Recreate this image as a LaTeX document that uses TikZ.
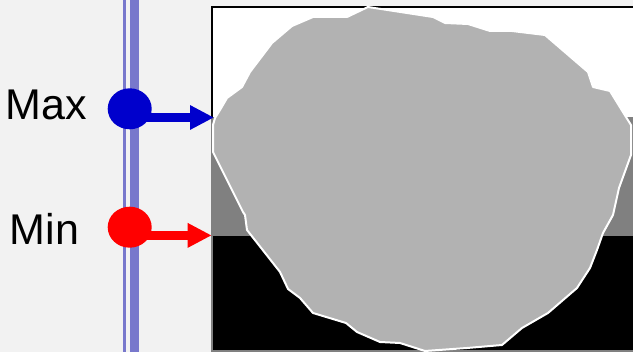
\documentclass[tikz,border=0pt]{standalone}
\usepackage{fontspec}
\setmainfont{Liberation Sans}
\usetikzlibrary{arrows.meta,shapes.geometric}
\definecolor{bgc}{HTML}{F2F2F2}
\definecolor{barc}{HTML}{7878CC}
\definecolor{maxc}{HTML}{0000CC}
\definecolor{minc}{HTML}{FF0000}
\definecolor{blobc}{HTML}{B2B2B2}
\definecolor{bandc}{HTML}{808080}
\begin{document}
\begin{tikzpicture}[x=1pt,y=-1pt,
  dot/.style={ellipse,minimum width=44pt,minimum height=41pt,inner sep=0pt},
  lbl/.style={anchor=base west,inner sep=0pt,font=\fontsize{43}{48}\selectfont},
  arr/.style={line width=8.4pt,-{Triangle[length=24pt,width=23pt]}}]
\fill[bgc] (0,0) rectangle (633,352);
\useasboundingbox (0,0) rectangle (633,352);
% vertical bar
\fill[barc] (122.5,0) rectangle (126,352);
\fill[barc] (129.5,0) rectangle (139,352);
% image frame and bands
\fill[white] (211,6) rectangle (633,117);
\fill[bandc] (211,117) rectangle (633,236);
\fill[black] (211,236) rectangle (633,352);
\draw[bandc,line width=2pt] (212,236) -- (212,351) -- (633,351);
\draw[black,line width=2pt] (212,117) -- (212,7) -- (633,7);
% blob
\filldraw[fill=blobc,draw=white,line width=2pt,line join=round]
 (368,7) -- (433,17) -- (445,23) -- (468,24) -- (490,31) -- (512,31) -- (545,35) -- (588,72) -- (593,87) -- (610,91) -- (626,117) -- (631,125) -- (631,155) -- (619,188) -- (613,215) -- (603,233) -- (597,250) -- (590,268) -- (577,288) -- (548,313) -- (522,328) -- (502,345) -- (467,348) -- (425,351) -- (400,343) -- (380,342) -- (357,332) -- (346,323) -- (313,313) -- (300,298) -- (288,289) -- (280,272) -- (247,230) -- (245,215) -- (243,212) -- (223,172) -- (213,152) -- (213,125) -- (215,118) -- (220,110) -- (227,98) -- (242,87) -- (250,72) -- (272,43) -- (292,26) -- (313,17) -- (347,17) -- cycle;
% dots, labels, arrows
\node[dot,fill=maxc] (maxdot) at (129.7,108.8) {};
\node[dot,fill=minc] (mindot) at (129.7,227.2) {};
\coordinate (maxtip) at (214,117.5);
\coordinate (mintip) at (211.7,235.4);
\draw[arr,maxc] (maxdot.center |- maxtip) -- (maxtip);
\draw[arr,minc] (mindot.center |- mintip) -- (mintip);
\node[lbl] (maxlabel) at (5.5,120) {Max};
\node[lbl] (minlabel) at (9.5,245) {Min};
\end{tikzpicture}
\end{document}
